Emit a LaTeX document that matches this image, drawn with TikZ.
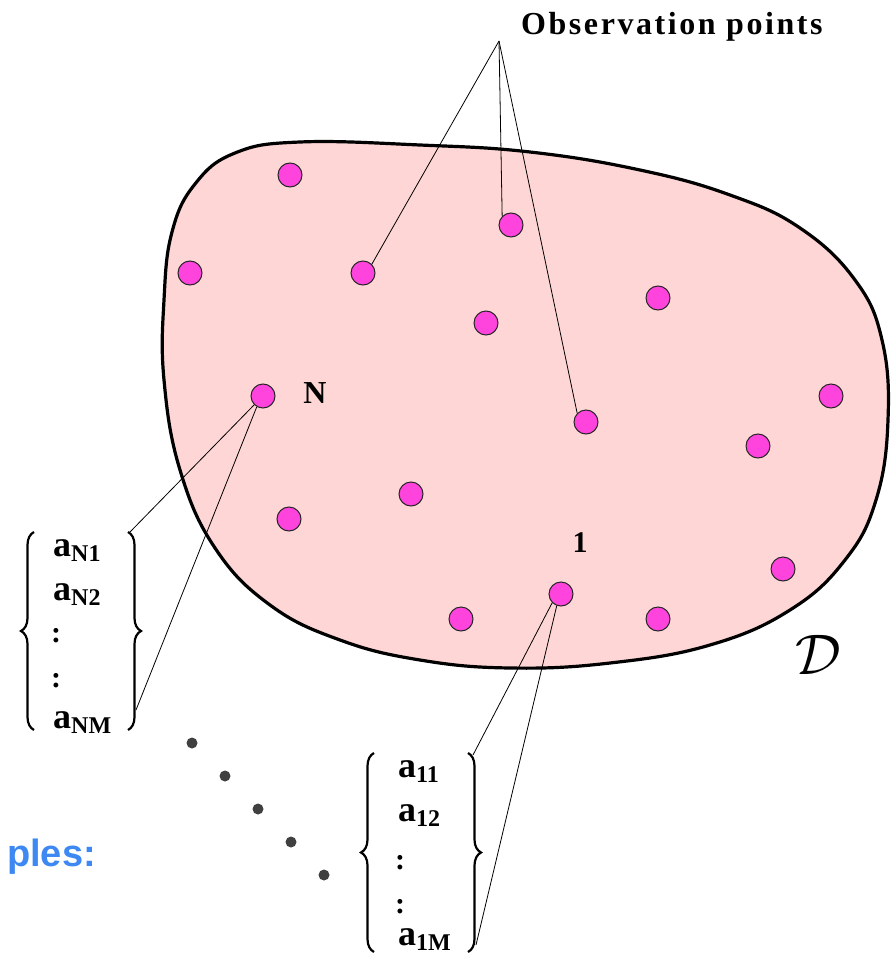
\documentclass[tikz,border=0pt]{standalone}
\usepackage{fontspec}
\setmainfont{Liberation Serif}
\newfontfamily\blobsans{Liberation Sans}
\usetikzlibrary{decorations.pathreplacing}
\definecolor{blobfill}{HTML}{FFD6D6}
\definecolor{dotfill}{HTML}{FF44DD}
\definecolor{bluetxt}{HTML}{3D88F2}
\tikzset{
  obs/.style={circle,draw=black!85,line width=1pt,fill=dotfill,minimum size=24pt,inner sep=0pt},
  ell/.style={circle,fill=black!75,minimum size=11pt,inner sep=0pt},
  lead/.style={draw=black,line width=0.8pt},
  entry/.style={anchor=base west,inner sep=0pt,font=\bfseries\fontsize{36}{36}\selectfont},
  coln/.style={anchor=center,inner sep=0pt,font=\bfseries\fontsize{30}{30}\selectfont},
  brc/.style={draw=black,line width=2.2pt,decorate,decoration={brace,amplitude=13pt}},
}
\newcommand{\sbs}[1]{\raisebox{-5pt}{\fontsize{24}{24}\selectfont #1}}
\begin{document}
\begin{tikzpicture}[x=1pt,y=-1pt]
\useasboundingbox (0,0) rectangle (894,955);
% region
\draw[line width=3.2pt,fill=blobfill] plot[smooth cycle,tension=0.7] coordinates{
 (300,142) (420,145) (530,152) (640,170) (730,195) (800,228) (855,280) (882,340)
 (888,420) (876,500) (845,560) (790,610) (710,645) (610,663) (510,668) (420,660)
 (340,640) (270,605) (215,548) (180,470) (164,380) (164,300) (172,232) (195,184) (235,153)};
% dots
\foreach \n/\x/\y in {a/290/175,b/190/273,c/363/273,d/511/225,e/486/323,f/658/298,
  N/263/396,g/586/422,h/831/396,i/758/446,j/411/494,k/289/519,one/561/594,l/461/619,m/658/619,o/783/569}
  \node[obs] (\n) at (\x,\y) {};
% labels
\node[font=\bfseries\fontsize{32}{32}\selectfont,anchor=base west,inner sep=0pt] (obslbl) at (521,35)
  {\addfontfeature{LetterSpace=8}Observation points};
\coordinate (cv) at (499,41);
\draw[lead] (cv) -- (c.north east);
\draw[lead] (cv) -- (d.north west);
\draw[lead] (cv) -- (g.north west);
\node[font=\bfseries\fontsize{32}{32}\selectfont] (Nlbl) at (315,393) {N};
\node[font=\bfseries\fontsize{30}{30}\selectfont] (onelbl) at (580,543) {1};
\node (Dlbl) at (818,655) {\scalebox{2.3}{\fontsize{24.88}{24.88}\selectfont$\mathcal{D}$}};
% bracket N
\draw[brc] (34,730) -- (34,532);
\draw[brc] (128,532) -- (128,730);
\node[entry] (aN1) at (53,556) {a\sbs{N1}};
\node[entry] (aN2) at (53,600) {a\sbs{N2}};
\node[coln] (cN1) at (56,636) {:};
\node[coln] (cN2) at (56,681) {:};
\node[entry] (aNM) at (53,728) {a\sbs{NM}};
\coordinate (bN1) at (130,532);
\coordinate (bN2) at (136,710);
\draw[lead] (N.south west) -- (bN1);
\draw[lead] (N.240) -- (bN2);
% bracket 1
\draw[brc] (374,952) -- (374,753);
\draw[brc] (468,753) -- (468,952);
\node[entry] (a11) at (398,777) {a\sbs{11}};
\node[entry] (a12) at (398,821) {a\sbs{12}};
\node[coln] (c11) at (400,863) {:};
\node[coln] (c12) at (400,907) {:};
\node[entry] (a1M) at (398,945) {a\sbs{1M}};
\coordinate (b11) at (473,755);
\coordinate (b12) at (476,945);
\draw[lead] (one.south west) -- (b11);
\draw[lead] (one.250) -- (b12);
% ellipsis dots
\foreach \n/\x/\y in {1/192/743,2/225/776,3/258/809,4/291/842,5/324/875}
  \node[ell] (e\n) at (\x,\y) {};
% blue text
\node[anchor=base east,inner sep=0pt,text=bluetxt,font=\blobsans\bfseries\fontsize{38}{38}\selectfont] (ples) at (96,866) {ples:};
\end{tikzpicture}
\end{document}
